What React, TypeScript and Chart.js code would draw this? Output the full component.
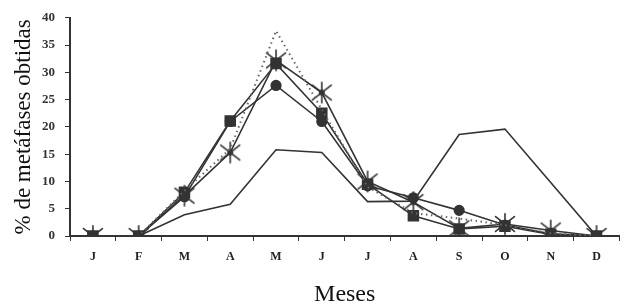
import React, { useEffect, useRef } from "react";
import { Chart, registerables } from "chart.js";

Chart.register(...registerables);

const months = ["J", "F", "M", "A", "M", "J", "J", "A", "S", "O", "N", "D"];
const yTicks = [0, 5, 10, 15, 20, 25, 30, 35, 40];

const plainSeries = [0, 0, 3.9, 5.8, 15.8, 15.3, 6.3, 6.4, 18.6, 19.6, 9.8, 0];
const dottedSeries = [0, 0, 8.3, 16, 37.6, 23.2, 9, 4.2, 3.2, 2, 0.5, 0];
const circleSeries = [0, 0, 7.2, 21, 27.6, 21, 9.2, 7, 4.7, 2, 0.4, 0];
const starSeries = [0, 0, 7.4, 15.3, 32.2, 26.3, 10, 6.2, 1.4, 2.2, 1, 0];
const squareSeries = [0, 0, 8, 21.1, 31.6, 22.5, 9.5, 3.7, 1.3, 1.8, 0.3, 0];

const INK = "#333333";
const FONT = "'Liberation Serif', 'Times New Roman', serif";

function makeStar(): HTMLCanvasElement {
  const c = document.createElement("canvas");
  const s = 26;
  c.width = s;
  c.height = s;
  const g = c.getContext("2d")!;
  g.strokeStyle = INK;
  g.lineWidth = 1.6;
  g.lineCap = "round";
  const cx = s / 2;
  const cy = s / 2;
  const r = 12;
  [90, 38, 142].forEach((deg) => {
    const a = (deg * Math.PI) / 180;
    const rr = deg === 90 ? r * 0.85 : r;
    g.beginPath();
    g.moveTo(cx - Math.cos(a) * rr, cy - Math.sin(a) * rr);
    g.lineTo(cx + Math.cos(a) * rr, cy + Math.sin(a) * rr);
    g.stroke();
  });
  g.fillStyle = INK;
  g.beginPath();
  g.arc(cx, cy, 3, 0, Math.PI * 2);
  g.fill();
  return c;
}

export default function App() {
  const ref = useRef<HTMLCanvasElement | null>(null);

  useEffect(() => {
    if (!ref.current) return;
    const star = makeStar();
    const base = {
      borderColor: INK,
      backgroundColor: INK,
      borderWidth: 1.6,
      tension: 0,
      fill: false,
    };
    const chart = new Chart(ref.current, {
      type: "line",
      data: {
        labels: months,
        datasets: [
          { ...base, label: "plain", data: plainSeries, pointRadius: 0 },
          {
            ...base,
            label: "dotted",
            data: dottedSeries,
            pointRadius: 0,
            borderDash: [1.5, 3.5],
            borderWidth: 2,
            borderColor: "#666666",
          },
          { ...base, label: "circle", data: circleSeries, pointStyle: "circle", pointRadius: 4.8 },
          { ...base, label: "star", data: starSeries, pointStyle: star as any, pointRadius: 12 },
          { ...base, label: "square", data: squareSeries, pointStyle: "rect", pointRadius: 7 },
        ],
      },
      options: {
        responsive: false,
        animation: false,
        layout: { padding: { top: 12, left: 0, right: 0, bottom: 0 } },
        plugins: { legend: { display: false }, tooltip: { enabled: false } },
        scales: {
          x: {
            type: "category",
            offset: true,
            grid: {
              offset: true,
              drawOnChartArea: false,
              drawTicks: true,
              tickLength: 5,
              color: INK,
              lineWidth: 1,
            },
            border: { display: true, color: INK, width: 2 },
            ticks: {
              color: "#222",
              padding: 9,
              font: { family: FONT, size: 12, weight: "bold" },
              maxRotation: 0,
              autoSkip: false,
            },
            title: {
              display: true,
              text: "Meses",
              color: "#111",
              font: { family: FONT, size: 24, lineHeight: 1 },
              padding: { top: 0, bottom: -2 },
            },
            afterFit: (s: any) => {
              s.height = 69;
            },
          },
          y: {
            min: 0,
            max: 40,
            afterBuildTicks: (s: any) => {
              s.ticks = yTicks.map((v) => ({ value: v }));
            },
            grid: {
              drawOnChartArea: false,
              drawTicks: true,
              tickLength: 5,
              color: INK,
              lineWidth: 1,
            },
            border: { display: true, color: INK, width: 2 },
            ticks: {
              color: "#333",
              padding: 10,
              font: { family: FONT, size: 13, weight: "bold" },
            },
            title: {
              display: true,
              text: "% de metáfases obtidas",
              color: "#111",
              font: { family: FONT, size: 23, lineHeight: 1 },
              padding: { top: 12, bottom: 0 },
            },
            afterFit: (s: any) => {
              s.width = 70;
            },
          },
        },
      },
    });
    return () => chart.destroy();
  }, []);

  return (
    <div style={{ position: "absolute", left: 0, top: 0, width: 633, height: 305, background: "#fff" }}>
      <canvas ref={ref} width={633} height={305} style={{ display: "block" }} />
    </div>
  );
}
